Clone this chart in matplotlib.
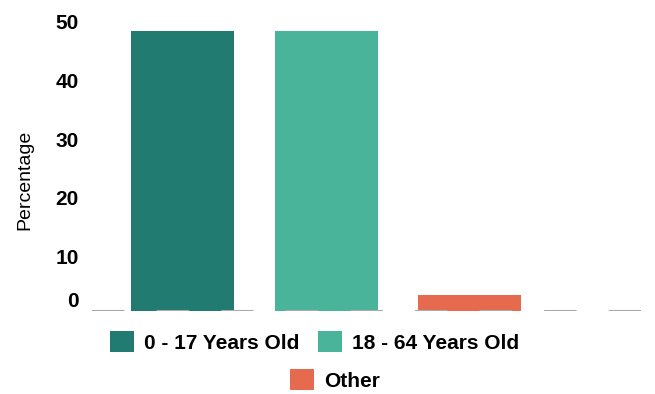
import matplotlib
matplotlib.use("Agg")
import matplotlib.pyplot as plt
import matplotlib.transforms as mtransforms
from matplotlib.patches import Patch

groups = ['0 - 17 Years Old', '18 - 64 Years Old', 'Other']
percent = [47.7, 47.7, 2.8]
colors = ['#227B71', '#4AB49A', '#E66A4D']
yticks = [0, 10, 20, 30, 40, 50]

plt.rcParams['font.family'] = ['Liberation Sans', 'DejaVu Sans']
plt.rcParams['lines.scale_dashes'] = False

fig = plt.figure(figsize=(6.55, 3.94), dpi=100)
ax = fig.add_axes([0.1405, 0.2107, 0.838, 0.745])

x = range(len(groups))
ax.bar(x, percent, width=0.718, color=colors, zorder=2)

# dashed grey baseline drawn over the bars
ax.axhline(0, color='#aaaaaa', lw=1.5, linestyle=(0, (23.4, 23.1)), zorder=3)

ax.set_xlim(-0.631, 3.195)
ax.set_ylim(0, 50)
ax.set_xticks([])
ax.set_yticks(yticks)
ax.set_yticklabels([str(v) for v in yticks], fontsize=15, fontweight='bold')
ax.tick_params(axis='y', length=0, pad=9.5)
for lab, v in zip(ax.get_yticklabels(), yticks):
    dy = 8 / 72 if v == 0 else -3 / 72
    lab.set_transform(lab.get_transform() + mtransforms.ScaledTranslation(0, dy, fig.dpi_scale_trans))
for s in ax.spines.values():
    s.set_visible(False)

ax.set_ylabel('Percentage', fontsize=14)
ax.yaxis.set_label_coords(-0.1075, 0.445)

handles = [Patch(facecolor=c, edgecolor='none') for c in colors]
leg_kw = dict(frameon=False, prop={'weight': 'bold', 'size': 15},
              handlelength=1.15, handleheight=1.15, handletextpad=0.48,
              borderpad=0, borderaxespad=0, columnspacing=0.91)
fig.legend(handles[:2], groups[:2], ncol=2, loc='center',
           bbox_to_anchor=(0.480, 0.132), **leg_kw)
fig.legend(handles[2:], groups[2:], ncol=1, loc='center',
           bbox_to_anchor=(0.511, 0.0355), **leg_kw)

plt.savefig('out.png', dpi=100)
